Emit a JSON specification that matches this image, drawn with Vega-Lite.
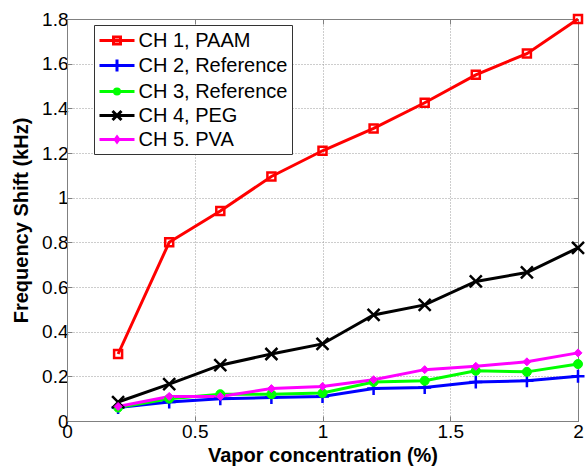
{
  "$schema": "https://vega.github.io/schema/vega-lite/v6.json",
  "width": 511,
  "height": 402,
  "autosize": {"type": "none"},
  "padding": {"left": 67, "top": 19, "right": 8, "bottom": 47},
  "background": "white",
  "config": {
    "font": "Liberation Sans",
    "view": {"stroke": "#808080", "strokeWidth": 1},
    "axis": {
      "labelFont": "Liberation Sans",
      "labelFontSize": 19,
      "labelColor": "black",
      "titleFont": "Liberation Sans",
      "titleFontSize": 20,
      "titleFontWeight": "bold",
      "titleColor": "black",
      "domainColor": "#808080",
      "tickColor": "#808080",
      "tickSize": -5,
      "gridColor": "#9a9a9a",
      "gridDash": [1, 2],
      "gridWidth": 1
    }
  },
  "data": {
    "values": [
      {"x": 0.2, "y": 0.30, "ch": "CH 1, PAAM"},
      {"x": 0.4, "y": 0.80, "ch": "CH 1, PAAM"},
      {"x": 0.6, "y": 0.94, "ch": "CH 1, PAAM"},
      {"x": 0.8, "y": 1.095, "ch": "CH 1, PAAM"},
      {"x": 1.0, "y": 1.21, "ch": "CH 1, PAAM"},
      {"x": 1.2, "y": 1.31, "ch": "CH 1, PAAM"},
      {"x": 1.4, "y": 1.425, "ch": "CH 1, PAAM"},
      {"x": 1.6, "y": 1.55, "ch": "CH 1, PAAM"},
      {"x": 1.8, "y": 1.645, "ch": "CH 1, PAAM"},
      {"x": 2.0, "y": 1.80, "ch": "CH 1, PAAM"},
      {"x": 0.2, "y": 0.06, "ch": "CH 2, Reference"},
      {"x": 0.4, "y": 0.085, "ch": "CH 2, Reference"},
      {"x": 0.6, "y": 0.10, "ch": "CH 2, Reference"},
      {"x": 0.8, "y": 0.105, "ch": "CH 2, Reference"},
      {"x": 1.0, "y": 0.11, "ch": "CH 2, Reference"},
      {"x": 1.2, "y": 0.145, "ch": "CH 2, Reference"},
      {"x": 1.4, "y": 0.15, "ch": "CH 2, Reference"},
      {"x": 1.6, "y": 0.175, "ch": "CH 2, Reference"},
      {"x": 1.8, "y": 0.18, "ch": "CH 2, Reference"},
      {"x": 2.0, "y": 0.20, "ch": "CH 2, Reference"},
      {"x": 0.2, "y": 0.06, "ch": "CH 3, Reference"},
      {"x": 0.4, "y": 0.10, "ch": "CH 3, Reference"},
      {"x": 0.6, "y": 0.12, "ch": "CH 3, Reference"},
      {"x": 0.8, "y": 0.12, "ch": "CH 3, Reference"},
      {"x": 1.0, "y": 0.125, "ch": "CH 3, Reference"},
      {"x": 1.2, "y": 0.175, "ch": "CH 3, Reference"},
      {"x": 1.4, "y": 0.18, "ch": "CH 3, Reference"},
      {"x": 1.6, "y": 0.225, "ch": "CH 3, Reference"},
      {"x": 1.8, "y": 0.22, "ch": "CH 3, Reference"},
      {"x": 2.0, "y": 0.255, "ch": "CH 3, Reference"},
      {"x": 0.2, "y": 0.085, "ch": "CH 4, PEG"},
      {"x": 0.4, "y": 0.165, "ch": "CH 4, PEG"},
      {"x": 0.6, "y": 0.25, "ch": "CH 4, PEG"},
      {"x": 0.8, "y": 0.30, "ch": "CH 4, PEG"},
      {"x": 1.0, "y": 0.345, "ch": "CH 4, PEG"},
      {"x": 1.2, "y": 0.475, "ch": "CH 4, PEG"},
      {"x": 1.4, "y": 0.52, "ch": "CH 4, PEG"},
      {"x": 1.6, "y": 0.625, "ch": "CH 4, PEG"},
      {"x": 1.8, "y": 0.665, "ch": "CH 4, PEG"},
      {"x": 2.0, "y": 0.775, "ch": "CH 4, PEG"},
      {"x": 0.2, "y": 0.065, "ch": "CH 5. PVA"},
      {"x": 0.4, "y": 0.11, "ch": "CH 5. PVA"},
      {"x": 0.6, "y": 0.11, "ch": "CH 5. PVA"},
      {"x": 0.8, "y": 0.145, "ch": "CH 5. PVA"},
      {"x": 1.0, "y": 0.155, "ch": "CH 5. PVA"},
      {"x": 1.2, "y": 0.185, "ch": "CH 5. PVA"},
      {"x": 1.4, "y": 0.23, "ch": "CH 5. PVA"},
      {"x": 1.6, "y": 0.245, "ch": "CH 5. PVA"},
      {"x": 1.8, "y": 0.265, "ch": "CH 5. PVA"},
      {"x": 2.0, "y": 0.305, "ch": "CH 5. PVA"}
    ]
  },
  "layer": [
    {
      "mark": {"type": "line", "strokeWidth": 3},
      "encoding": {
        "x": {"field": "x", "type": "quantitative",
          "scale": {"domain": [0, 2], "nice": false},
          "axis": {"values": [0, 0.5, 1, 1.5, 2], "format": "~g", "title": "Vapor concentration (%)", "labelPadding": 6, "titlePadding": 4, "labelFlush": false}},
        "y": {"field": "y", "type": "quantitative",
          "scale": {"domain": [0, 1.8], "nice": false},
          "axis": {"values": [0, 0.2, 0.4, 0.6, 0.8, 1, 1.2, 1.4, 1.6, 1.8], "format": "~g", "title": "Frequency Shift (kHz)", "labelPadding": 4, "titlePadding": 10, "labelFlush": false}},
        "color": {"field": "ch", "type": "nominal",
          "scale": {"domain": ["CH 1, PAAM", "CH 2, Reference", "CH 3, Reference", "CH 4, PEG", "CH 5. PVA"],
                    "range": ["#ff0000", "#0000ff", "#00ff00", "#000000", "#ff00ff"]},
          "legend": {
            "title": null,
            "orient": "none",
            "legendX": 27,
            "legendY": 6,
            "labelFont": "Liberation Sans",
            "labelFontSize": 20,
            "labelColor": "black",
            "labelOffset": 10,
            "symbolOffset": 7.5,
            "strokeColor": "#333333",
            "fillColor": "white",
            "padding": 4,
            "rowPadding": 2,
            "symbolSize": 400,
            "symbolStrokeWidth": 3,
            "encode": {
              "symbols": {
                "update": {
                  "shape": {"signal": "datum.value === 'CH 1, PAAM' ? 'M-1.75,0H1.75M-0.35,-0.35H0.35V0.35H-0.35Z' : datum.value === 'CH 2, Reference' ? 'M-1.75,0H1.75M0,-0.6V0.6' : datum.value === 'CH 3, Reference' ? 'M-1.75,0H1.75M-0.25,0A0.25,0.25 0 1,1 0.25,0A0.25,0.25 0 1,1 -0.25,0Z' : datum.value === 'CH 4, PEG' ? 'M-1.75,0H1.75M-0.45,-0.45L0.45,0.45M-0.45,0.45L0.45,-0.45' : 'M-1.75,0H1.75M0,-0.25L0.18,0L0,0.25L-0.18,0Z'"},
                  "fill": {"signal": "datum.value === 'CH 1, PAAM' ? 'white' : datum.value === 'CH 2, Reference' ? '#0000ff' : datum.value === 'CH 3, Reference' ? '#00ff00' : datum.value === 'CH 4, PEG' ? '#000000' : '#ff00ff'"},
                  "strokeWidth": {"value": 3}
                }
              }
            }
          }}
      }
    },
    {
      "transform": [{"filter": "datum.ch === 'CH 1, PAAM'"}],
      "mark": {"type": "point", "shape": "M-1,-1H1V1H-1Z", "size": 64, "strokeWidth": 2.5, "stroke": "#ff0000", "fill": "transparent", "opacity": 1},
      "encoding": {
        "x": {"field": "x", "type": "quantitative", "axis": null},
        "y": {"field": "y", "type": "quantitative", "axis": null}
      }
    },
    {
      "transform": [{"filter": "datum.ch === 'CH 2, Reference'"}],
      "mark": {"type": "point", "shape": "M-1,0H1M0,-1V1", "size": 169, "strokeWidth": 2.5, "stroke": "#0000ff", "fill": "transparent", "opacity": 1},
      "encoding": {
        "x": {"field": "x", "type": "quantitative", "axis": null},
        "y": {"field": "y", "type": "quantitative", "axis": null}
      }
    },
    {
      "transform": [{"filter": "datum.ch === 'CH 3, Reference'"}],
      "mark": {"type": "point", "shape": "circle", "size": 81, "strokeWidth": 1, "stroke": "#00ff00", "fill": "#00ff00", "opacity": 1},
      "encoding": {
        "x": {"field": "x", "type": "quantitative", "axis": null},
        "y": {"field": "y", "type": "quantitative", "axis": null}
      }
    },
    {
      "transform": [{"filter": "datum.ch === 'CH 4, PEG'"}],
      "mark": {"type": "point", "shape": "M-1,-1L1,1M-1,1L1,-1", "size": 144, "strokeWidth": 2.5, "stroke": "#000000", "fill": "transparent", "opacity": 1},
      "encoding": {
        "x": {"field": "x", "type": "quantitative", "axis": null},
        "y": {"field": "y", "type": "quantitative", "axis": null}
      }
    },
    {
      "transform": [{"filter": "datum.ch === 'CH 5. PVA'"}],
      "mark": {"type": "point", "shape": "diamond", "size": 64, "strokeWidth": 1, "stroke": "#ff00ff", "fill": "#ff00ff", "opacity": 1},
      "encoding": {
        "x": {"field": "x", "type": "quantitative", "axis": null},
        "y": {"field": "y", "type": "quantitative", "axis": null}
      }
    },
    {
      "mark": {"type": "point", "opacity": 0},
      "encoding": {
        "x": {"field": "x", "type": "quantitative",
          "axis": {"orient": "top", "values": [0, 0.5, 1, 1.5, 2], "labels": false, "title": null, "grid": false}},
        "y": {"field": "y", "type": "quantitative",
          "axis": {"orient": "right", "values": [0, 0.2, 0.4, 0.6, 0.8, 1, 1.2, 1.4, 1.6, 1.8], "labels": false, "title": null, "grid": false}}
      }
    }
  ],
  "resolve": {"axis": {"x": "independent", "y": "independent"}}
}
